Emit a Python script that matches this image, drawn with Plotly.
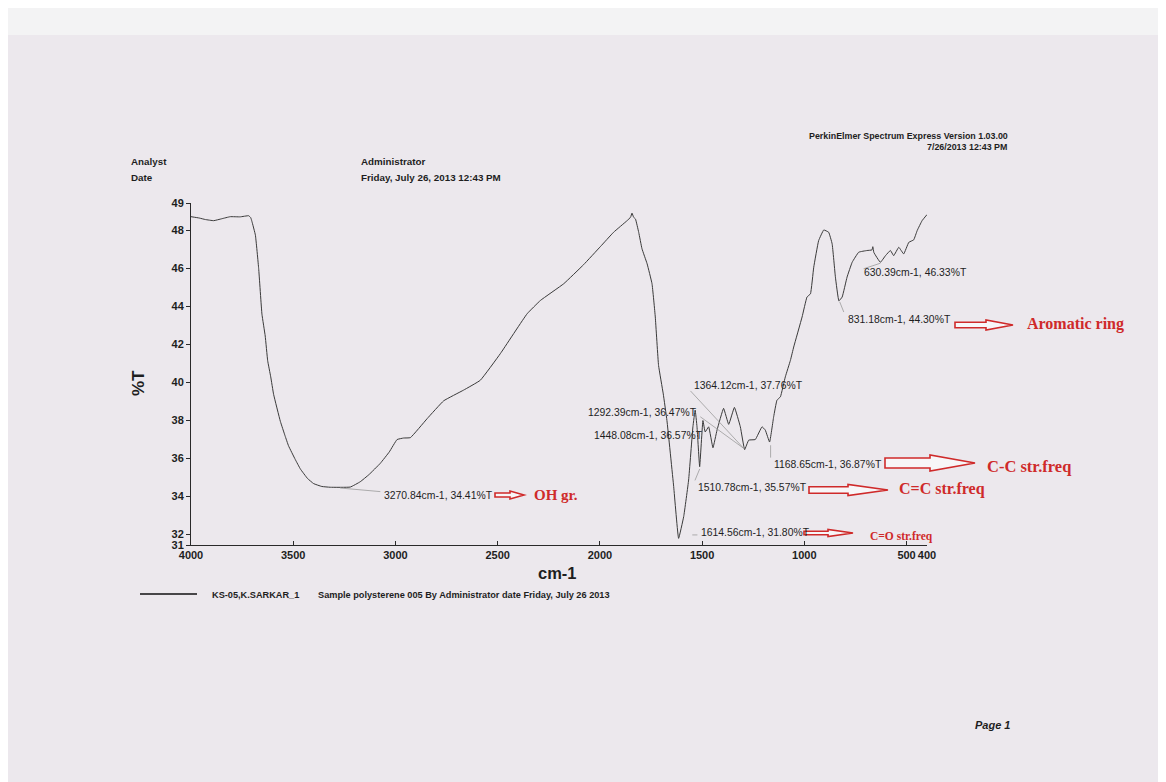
import plotly.graph_objects as go

# ---------------- data ----------------
wavenumber = [4000, 3960, 3930, 3889, 3850, 3808, 3760, 3718, 3708, 3702, 3685, 3669, 3653,
              3637, 3625, 3610, 3596, 3563, 3540, 3523, 3490, 3465, 3430, 3400, 3360, 3319,
              3221, 3172, 3130, 3074, 3030, 2992, 2960, 2927, 2845, 2764, 2667, 2585, 2487,
              2356, 2291, 2177, 2080, 1998, 1933, 1867, 1850, 1843, 1835, 1826, 1810, 1794,
              1769, 1745, 1729, 1713, 1690, 1672, 1639, 1615, 1590, 1566, 1545, 1534, 1525,
              1512, 1496, 1485, 1468, 1447, 1427, 1395, 1370, 1342, 1313, 1292, 1272, 1240,
              1207, 1191, 1170, 1150, 1134, 1117, 1093, 1068, 1052, 1011, 987, 970, 954, 930,
              905, 881, 864, 848, 831, 815, 791, 766, 734, 693, 669, 665, 660, 628, 603, 579,
              563, 538, 514, 489, 465, 448, 424, 400]
transmittance = [48.73, 48.66, 48.58, 48.52, 48.62, 48.73, 48.72, 48.78, 48.68, 48.48, 47.76,
                 46.00, 43.60, 42.45, 41.15, 40.30, 39.38, 37.96, 37.20, 36.67, 35.95, 35.45,
                 34.95, 34.68, 34.53, 34.49, 34.50, 34.78, 35.15, 35.75, 36.35, 37.00, 37.08,
                 37.10, 38.10, 39.04, 39.60, 40.12, 41.52, 43.62, 44.32, 45.20, 46.20, 47.15,
                 47.91, 48.52, 48.70, 48.92, 48.70, 48.61, 47.90, 47.04, 46.25, 45.20, 43.45,
                 40.90, 39.40, 38.00, 34.52, 31.80, 32.95, 34.87, 37.67, 38.55, 37.67, 35.57,
                 38.00, 37.40, 37.67, 36.57, 37.50, 38.64, 37.80, 38.69, 37.67, 36.47, 36.97,
                 37.00, 37.67, 37.50, 36.87, 38.20, 39.07, 39.25, 40.30, 41.17, 41.87, 43.45,
                 44.50, 44.67, 46.07, 47.47, 48.03, 47.91, 47.30, 45.55, 44.30, 44.50, 45.55,
                 46.33, 46.86, 46.95, 46.98, 47.15, 46.85, 46.33, 46.68, 46.95, 46.68, 47.12,
                 46.77, 47.38, 47.51, 48.00, 48.52, 48.84]

x_tickvals = [4000, 3500, 3000, 2500, 2000, 1500, 1000, 500, 400]
x_ticktext = ["4000", "3500", "3000", "2500", "2000", "1500", "1000", "500", "400"]
y_tickvals = [31.45, 32, 34, 36, 38, 40, 42, 44, 46, 48, 49.45]
y_ticktext = ["31", "32", "34", "36", "38", "40", "42", "44", "46", "48", "49"]

peak_wn = [3270.84, 1364.12, 1292.39, 1448.08, 1168.65, 1510.78, 1614.56, 630.39, 831.18]
peak_T = [34.41, 37.76, 36.47, 36.57, 36.87, 35.57, 31.80, 46.33, 44.30]

group_labels = ["OH gr.", "Aromatic ring", "C-C str.freq", "C=C str.freq", "C=O str.freq"]

legend_name = "KS-05,K.SARKAR_1"
legend_desc = "Sample polysterene 005 By Administrator date Friday, July 26 2013"

# ---------------- layout geometry (page pixels) ----------------
OFF = 8                      # page body margin of the html page
W, H = 1166 - OFF, 782 - OFF  # figure size
L, R, T, B = 191, 927, 203, 545   # plot area in page pixels


def P(px, py):
    return (px - L) / (R - L), (B - py) / (B - T)


RED = "#CF2A2A"
INK = "#1e1e1e"
SANS = "Liberation Sans, Arial, sans-serif"
SERIF = "Liberation Serif, Times New Roman, serif"

fig = go.Figure()
fig.add_trace(go.Scatter(x=wavenumber, y=transmittance, mode="lines",
                         line=dict(color="#3a3a3a", width=1, shape="spline", smoothing=0.3),
                         showlegend=False, hoverinfo="skip"))

# leader lines (data coords: peak -> label)
leaders = [
    ([3270.84, 3074], [34.45, 34.26]),
    ([1557, 1297], [39.56, 36.54]),
    ([1509, 1297], [38.2, 36.54]),
    ([1512, 1535], [35.45, 34.85]),
    ([1165, 1165], [36.7, 36.05]),
    ([1548, 1523], [31.98, 31.98]),
    ([827, 807], [44.25, 43.71]),
    ([710, 628], [45.99, 46.28]),
]
for lx, ly in leaders:
    fig.add_trace(go.Scatter(x=lx, y=ly, mode="lines",
                             line=dict(color="#9a9a9a", width=0.8),
                             showlegend=False, hoverinfo="skip"))

annotations = []
shapes = []

# lighter top band of the scan
shapes.append(dict(type="rect", xref="paper", yref="paper",
                   x0=P(0, 0)[0], x1=P(1200, 0)[0], y0=P(0, 35)[1], y1=P(0, 0)[1],
                   fillcolor="#F3F3F4", line=dict(width=0), layer="below"))


def text(s, px, py, size, anchor="left", color=INK, family=SANS, bold=False,
         italic=False, angle=0):
    xp, yp = P(px, py)
    if bold:
        s = "<b>" + s + "</b>"
    if italic:
        s = "<i>" + s + "</i>"
    annotations.append(dict(text=s, x=xp, y=yp, xref="paper", yref="paper",
                            xanchor=anchor, yanchor="middle", showarrow=False,
                            textangle=angle,
                            font=dict(size=size, color=color, family=family)))


# header
text("Analyst", 129, 162, 9.8, bold=True)
text("Date", 129, 177.5, 9.8, bold=True)
text("Administrator", 359, 162, 9.8, bold=True)
text("Friday, July 26, 2013 12:43 PM", 359, 177.5, 9.8, bold=True)
text("PerkinElmer Spectrum Express Version 1.03.00", 1010, 136, 8.9, anchor="right", bold=True)
text("7/26/2013 12:43 PM", 1009, 146.7, 8.9, anchor="right", bold=True)

# axis titles
text("%T", 138, 383, 17, anchor="center", bold=True, angle=-90)
text("cm-1", 557, 573, 16.5, anchor="center", bold=True)

# peak labels
label_pos = [(382, 495), (691.5, 385), (585.5, 412.3), (592, 435), (772, 464),
             (695.5, 487.7), (699, 532.3), (862, 272.7), (845.5, 319)]
for wn, t, (px, py) in zip(peak_wn, peak_T, label_pos):
    text(f"{wn:.2f}cm-1, {t:.2f}%T", px, py, 10.4)


# red hollow block arrows + group labels
def block_arrow(x0, x1, yc, shaft, head, head_len):
    hx = x1 - head_len
    pts = [(x0, yc - shaft / 2), (hx, yc - shaft / 2), (hx, yc - head / 2), (x1, yc),
           (hx, yc + head / 2), (hx, yc + shaft / 2), (x0, yc + shaft / 2)]
    d = ""
    for i, (px, py) in enumerate(pts):
        xp, yp = P(px, py)
        d += ("M" if i == 0 else "L") + f"{xp:.5f},{yp:.5f} "
    d += "Z"
    shapes.append(dict(type="path", xref="paper", yref="paper", path=d,
                       line=dict(color=RED, width=1.6), fillcolor="rgba(255,255,255,0.6)"))


arrow_geom = [
    (495, 524, 495, 4, 8, 14),
    (955, 1013, 325, 5.5, 10, 27),
    (885, 975, 463, 10, 16, 45),
    (809, 888, 490, 6.5, 11, 40),
    (804, 853, 533, 3.5, 7, 25),
]
label_geom = [(532, 495, 15), (1025, 323.5, 16), (985, 466, 16.5), (897, 489, 16), (868, 536, 11.5)]
for (x0, x1, yc, sh, hd, hl), lab, (lx, ly, fs) in zip(arrow_geom, group_labels, label_geom):
    block_arrow(x0, x1, yc, sh, hd, hl)
    text(lab, lx, ly, fs, color=RED, family=SERIF, bold=True)

# legend
x0p, y0p = P(140, 594)
x1p, _ = P(197, 594)
shapes.append(dict(type="line", xref="paper", yref="paper", x0=x0p, x1=x1p, y0=y0p, y1=y0p,
                   line=dict(color="#111111", width=1.6)))
text(legend_name, 210, 594.5, 9.2, bold=True)
text(legend_desc, 316, 594.5, 9.2, bold=True)

# page footer
text("Page 1", 973, 725, 11, bold=True, italic=True)

fig.update_layout(
    width=W, height=H, autosize=False,
    margin=dict(l=L - OFF, r=W - (R - OFF), t=T - OFF, b=H - (B - OFF), pad=0),
    paper_bgcolor="#ECE8ED", plot_bgcolor="rgba(0,0,0,0)",
    showlegend=False,
    annotations=annotations, shapes=shapes,
    xaxis=dict(range=[4000, 400], tickvals=x_tickvals, ticktext=x_ticktext,
               showgrid=False, zeroline=False, showline=True, linecolor="#2a2a2a",
               linewidth=1, ticks="inside", ticklen=4, tickcolor="#2a2a2a",
               tickfont=dict(size=11, color=INK, family=SANS, weight="bold")),
    yaxis=dict(range=[31.45, 49.45], tickvals=y_tickvals, ticktext=y_ticktext,
               showgrid=False, zeroline=False, showline=True, linecolor="#2a2a2a",
               linewidth=1, ticks="outside", ticklen=4, tickcolor="#2a2a2a",
               tickfont=dict(size=11, color=INK, family=SANS, weight="bold")),
)

fig.write_html("out.html")
